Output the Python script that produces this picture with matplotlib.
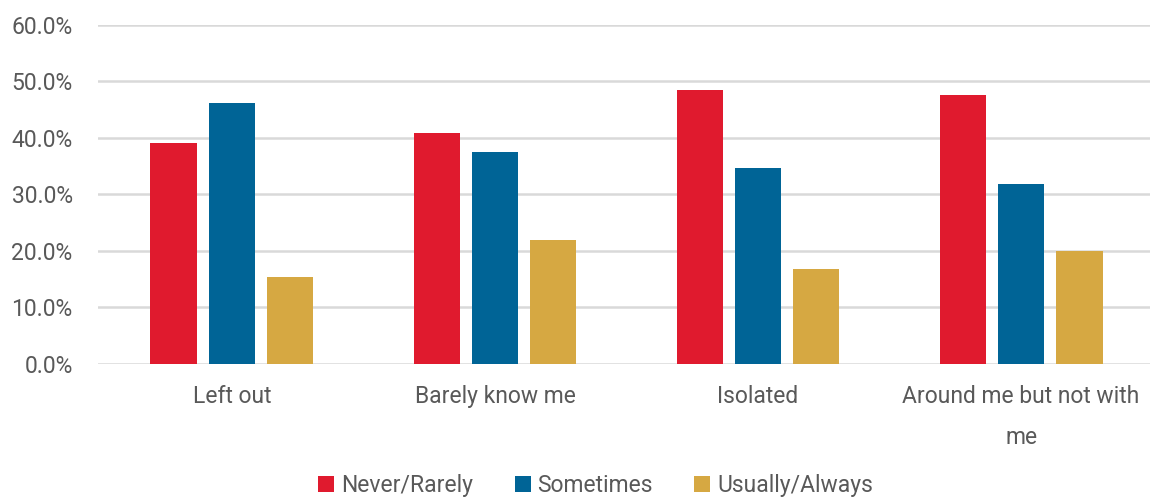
import numpy as np
import matplotlib.pyplot as plt
from matplotlib.ticker import PercentFormatter

plt.rcParams['font.family'] = ['Roboto', 'DejaVu Sans']

categories = ['Left out', 'Barely know me', 'Isolated', 'Around me but not with\nme']
series = ['Never/Rarely', 'Sometimes', 'Usually/Always']
never_rarely = [39.0, 40.9, 48.4, 47.5]
sometimes = [46.1, 37.5, 34.7, 31.9]
usually_always = [15.3, 21.9, 16.7, 20.0]
colors = ['#e01a2e', '#006496', '#d6a842']

fig = plt.figure(figsize=(11.5, 4.97), dpi=100)
ax = fig.add_axes([0.085, 0.268, 0.915, 0.682])

x = np.arange(len(categories))
width = 0.175
step = 0.222
for i, (vals, name) in enumerate(zip([never_rarely, sometimes, usually_always], series)):
    ax.bar(x + (i - 1) * step, vals, width, color=colors[i], label=name, zorder=3)

ax.set_xlim(-0.51, 3.49)
ax.set_ylim(0, 60)
ax.set_yticks(np.arange(0, 61, 10))
ax.yaxis.set_major_formatter(PercentFormatter(decimals=1))
ax.grid(axis='y', color='#d9d9d9', linewidth=1.8, zorder=0)
for s in ax.spines.values():
    s.set_visible(False)
ax.tick_params(axis='both', length=0, labelsize=16.5, labelcolor='#595959')
ax.tick_params(axis='x', pad=15)
ax.tick_params(axis='y', pad=18)
ax.set_xticks(x)
ax.set_xticklabels(categories, linespacing=2.0)

fig.legend(loc='lower center', bbox_to_anchor=(0.518, -0.042), ncol=3, frameon=False,
           fontsize=16.5, labelcolor='#595959', handlelength=0.7, handleheight=0.7,
           handletextpad=0.3, columnspacing=1.8)

fig.savefig('out.png', dpi=100)
